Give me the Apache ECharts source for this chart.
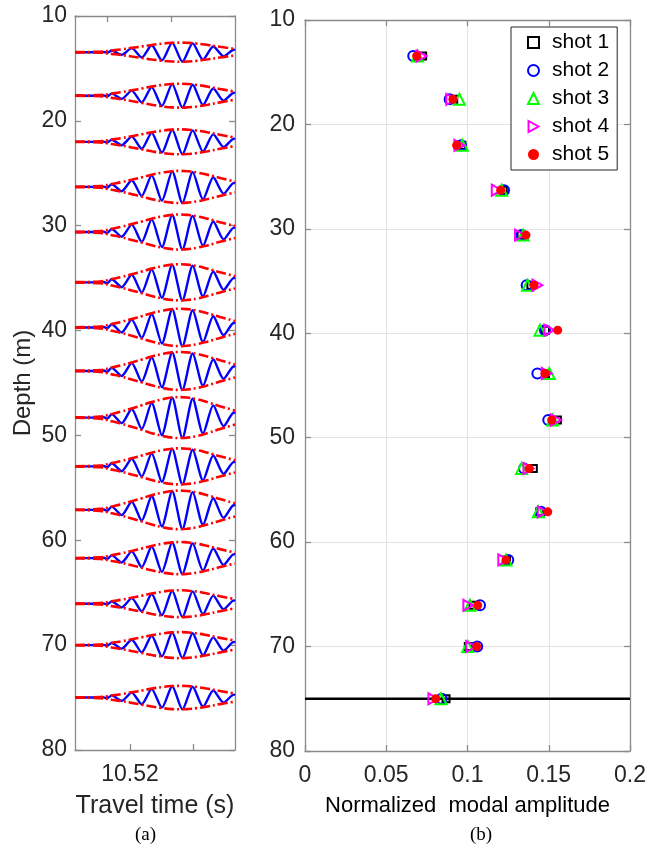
<!DOCTYPE html>
<html>
<head>
<meta charset="utf-8">
<script src="https://cdn.jsdelivr.net/npm/echarts@6/dist/echarts.min.js"></script>
<style>
html, body { margin: 0; padding: 0; background: #fff; }
#chart { width: 649px; height: 848px; }
</style>
</head>
<body>
<div id="chart"></div>
<script>
// receiver depths (m)
var depths = [13.45, 17.6, 22.0, 26.3, 30.6, 35.4, 39.7, 43.85, 48.3, 52.95, 57.1, 61.7, 66.05, 70.0, 75.0];

// normalized modal amplitude per shot, one value per depth
var shot1 = [0.0724, 0.0915, 0.0965, 0.122, 0.133, 0.139, 0.148, 0.148, 0.1553, 0.1405, 0.1445, 0.124, 0.1034, 0.1005, 0.0868];
var shot2 = [0.0666, 0.089, 0.096, 0.1225, 0.1333, 0.1364, 0.1477, 0.143, 0.1497, 0.1348, 0.1452, 0.1251, 0.1077, 0.106, 0.0841];
var shot3 = [0.0693, 0.095, 0.0968, 0.121, 0.1343, 0.137, 0.1446, 0.1503, 0.1524, 0.1333, 0.1436, 0.1237, 0.1015, 0.1001, 0.0837];
var shot4 = [0.0718, 0.090, 0.095, 0.118, 0.1323, 0.143, 0.1504, 0.1487, 0.1545, 0.1375, 0.1463, 0.122, 0.1005, 0.1022, 0.079];
var shot5 = [0.0687, 0.091, 0.0933, 0.1204, 0.136, 0.1409, 0.1555, 0.1477, 0.1518, 0.138, 0.1494, 0.1237, 0.1063, 0.1057, 0.0804];

var cutoffDepth = 75;
var ampTicks = [0, 0.05, 0.1, 0.15, 0.2];

// panel (a): peak envelope height of each trace, in depth units
var traceAmp = [0.91, 1.14, 1.19, 1.53, 1.67, 1.72, 1.78, 1.81, 1.95, 1.72, 1.84, 1.53, 1.28, 1.24, 1.12];

// normalized waveform (travel time in s)
var waveTime = [10.51127, 10.51524, 10.51587, 10.51635, 10.51710, 10.51868, 10.52027, 10.52186, 10.52344,
                10.52506, 10.52670, 10.52832, 10.52995, 10.53159, 10.53322, 10.53486, 10.53649, 10.53667];
var waveValue = [0, 0, 0.02, -0.06, 0.17, -0.27, 0.42, -0.56, 0.72, -0.86, 0.97, -1.0, 0.92, -0.78, 0.6, -0.42, 0.25, 0.2];

// envelope of the waveform
var envTime = [10.51127, 10.51524, 10.51710, 10.51868, 10.52027, 10.52186, 10.52344, 10.52506,
               10.52670, 10.52794, 10.52905, 10.53063, 10.53238, 10.53429, 10.53667];
var envValue = [0.01, 0.05, 0.18, 0.3, 0.45, 0.6, 0.76, 0.89, 0.98, 1.0, 0.98, 0.9, 0.75, 0.56, 0.34];

var timeMin = 10.51127, timeMax = 10.53667;
var timeTicks = [10.52, 10.53];
var timeTicksTop = [10.51635, 10.52651];

var FONT = 'Liberation Sans';
var AXIS = '#8a8a8a';
var TXT = '#262626';

function frameAxis(extra) {
    var a = {
        axisLine: { show: true, onZero: false, lineStyle: { color: AXIS, width: 1.3 } },
        axisTick: { show: true, inside: true, length: 6, lineStyle: { color: AXIS, width: 1.3 } },
        axisLabel: { show: false },
        splitLine: { show: false }
    };
    for (var k in extra) a[k] = extra[k];
    return a;
}

var depthAxis = { type: 'value', min: 10, max: 80, interval: 10, inverse: true };

var myChart = echarts.init(document.getElementById('chart'));

var series = [];

// panel (a) traces
for (var i = 0; i < depths.length; i++) {
    var wave = [], up = [], lo = [];
    for (var j = 0; j < waveTime.length; j++) {
        wave.push([waveTime[j], depths[i] - traceAmp[i] * waveValue[j]]);
    }
    for (var j = 0; j < envTime.length; j++) {
        up.push([envTime[j], depths[i] - traceAmp[i] * envValue[j]]);
        lo.push([envTime[j], depths[i] + traceAmp[i] * envValue[j]]);
    }
    series.push({
        type: 'line', xAxisIndex: 0, yAxisIndex: 0, data: wave, showSymbol: false, symbol: 'none',
        smooth: 0.25, lineStyle: { color: '#0000ff', width: 2.4 }, silent: true, z: 2
    });
    [up, lo].forEach(function (d) {
        series.push({
            type: 'line', xAxisIndex: 0, yAxisIndex: 0, data: d, showSymbol: false, symbol: 'none',
            smooth: true, lineStyle: { color: '#ff0000', width: 2.6, type: [10, 3, 2, 3] }, silent: true, z: 3
        });
    });
}

// panel (b)
series.push({
    type: 'line', xAxisIndex: 2, yAxisIndex: 2, symbol: 'none', silent: true, z: 1,
    data: [[ampTicks[0], cutoffDepth], [ampTicks[ampTicks.length - 1], cutoffDepth]],
    lineStyle: { color: '#000', width: 2.5 }
});

function pts(vals) {
    return vals.map(function (v, k) { return [v, depths[k]]; });
}
var hollow = 'rgba(0,0,0,0)';
var shots = [
    { name: 'shot 1', data: shot1, symbol: 'rect', size: 7, fill: hollow, border: '#000000' },
    { name: 'shot 2', data: shot2, symbol: 'circle', size: 10, fill: hollow, border: '#0000ff' },
    { name: 'shot 3', data: shot3, symbol: 'triangle', size: 11, fill: hollow, border: '#00ff00' },
    { name: 'shot 4', data: shot4, symbol: 'path://M0,0L9,5L0,10Z', size: 11, fill: hollow, border: '#ff00ff' },
    { name: 'shot 5', data: shot5, symbol: 'circle', size: 9, fill: '#ff0000', border: '#ff0000' }
];
shots.forEach(function (s, k) {
    series.push({
        name: s.name, type: 'scatter', xAxisIndex: 2, yAxisIndex: 2,
        data: pts(s.data), symbol: s.symbol, symbolSize: s.size, symbolKeepAspect: true, z: 5 + k,
        itemStyle: { color: s.fill, borderColor: s.border, borderWidth: s.fill === hollow ? 2 : 0, opacity: 1 }
    });
});

myChart.setOption({
    animation: false,
    backgroundColor: '#fff',
    textStyle: { fontFamily: FONT },
    grid: [
        { left: 75, top: 16, width: 160, height: 734, containLabel: false, outerBoundsMode: 'none' },
        { left: 305, top: 20, width: 325, height: 731, containLabel: false, outerBoundsMode: 'none' }
    ],
    xAxis: [
        frameAxis({
            type: 'value', gridIndex: 0, position: 'bottom', min: timeMin, max: timeMax,
            axisTick: { show: true, inside: true, length: 6, customValues: timeTicks, lineStyle: { color: AXIS, width: 1.3 } },
            axisLabel: { show: true, customValues: [10.52], color: TXT, fontSize: 23, fontFamily: FONT, margin: 13,
                formatter: function (v) { return v.toFixed(2); } },
            name: 'Travel time (s)', nameLocation: 'middle', nameGap: 44,
            nameTextStyle: { color: TXT, fontSize: 25, fontFamily: FONT }
        }),
        frameAxis({
            type: 'value', gridIndex: 0, position: 'top', min: timeMin, max: timeMax,
            axisTick: { show: true, inside: true, length: 6, customValues: timeTicksTop, lineStyle: { color: AXIS, width: 1.3 } }
        }),
        frameAxis({
            type: 'value', gridIndex: 1, position: 'bottom', min: 0, max: 0.2, interval: 0.05,
            axisLabel: { show: true, color: TXT, fontSize: 23, fontFamily: FONT, margin: 13 },
            splitLine: { show: true, lineStyle: { color: '#e3e3e3', width: 1 } },
            name: 'Normalized  modal amplitude', nameLocation: 'middle', nameGap: 44,
            nameTextStyle: { color: '#000', fontSize: 22, fontFamily: FONT }
        }),
        frameAxis({ type: 'value', gridIndex: 1, position: 'top', min: 0, max: 0.2, interval: 0.05 })
    ],
    yAxis: [
        frameAxis(Object.assign({}, depthAxis, {
            gridIndex: 0, position: 'left',
            axisLabel: { show: true, color: TXT, fontSize: 23, fontFamily: FONT, margin: 8 },
            name: 'Depth (m)', nameLocation: 'middle', nameGap: 40,
            nameTextStyle: { color: TXT, fontSize: 24, fontFamily: FONT }
        })),
        frameAxis(Object.assign({}, depthAxis, { gridIndex: 0, position: 'right' })),
        frameAxis(Object.assign({}, depthAxis, {
            gridIndex: 1, position: 'left',
            axisLabel: { show: true, color: TXT, fontSize: 23, fontFamily: FONT, margin: 10 },
            splitLine: { show: true, lineStyle: { color: '#e3e3e3', width: 1 } }
        })),
        frameAxis(Object.assign({}, depthAxis, { gridIndex: 1, position: 'right' }))
    ],
    legend: {
        data: shots.map(function (s) { return s.name; }),
        orient: 'vertical', left: 511, top: 27,
        backgroundColor: '#fff', borderColor: '#262626', borderWidth: 1,
        padding: [5, 8, 5, 16], itemGap: 7, itemWidth: 11, itemHeight: 11,
        textStyle: { color: '#000', fontSize: 21, fontFamily: FONT, padding: [0, 0, 0, 8] }
    },
    graphic: [
        { type: 'text', left: 135, top: 826, style: { text: '(a)', font: '19px "Liberation Serif"', fill: '#000' } },
        { type: 'text', left: 470, top: 826, style: { text: '(b)', font: '19px "Liberation Serif"', fill: '#000' } }
    ],
    series: series
});
</script>
</body>
</html>
